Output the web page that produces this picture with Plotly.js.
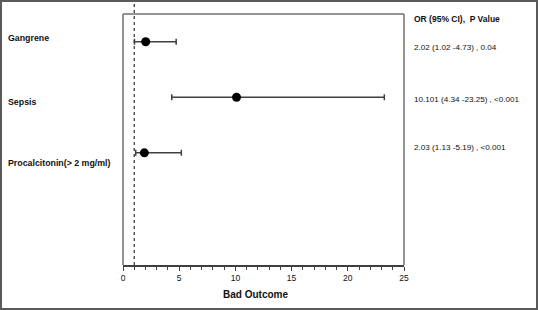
<!DOCTYPE html>
<html><head><meta charset="utf-8">
<script src="https://cdn.plot.ly/plotly-3.0.1.min.js"></script>
<style>
body{margin:0;background:#fff;}
#wrap{position:absolute;left:0;top:0;width:538px;height:310px;border:2px solid #5a5a5a;box-sizing:border-box;}
#chart{width:534px;height:306px;}
</style></head>
<body><div id="wrap"><div id="chart"></div></div>
<script>
const categories = ["Gangrene", "Sepsis", "Procalcitonin(> 2 mg/ml)"];
const orValues = [2.02, 10.1, 1.9];
const ciLow = [1.02, 4.34, 1.13];
const ciHigh = [4.73, 23.25, 5.19];
const resultLabels = ["2.02 (1.02 -4.73) , 0.04", "10.101 (4.34 -23.25) , <0.001", "2.03 (1.13 -5.19) , <0.001"];
const resultHeader = "OR (95% CI),  P Value";
const xTitle = "Bad Outcome";
const refLine = 1;

const FONT = "Liberation Sans, Arial, sans-serif";
const trace = {
  type: "scatter", mode: "markers",
  x: orValues, y: categories,
  marker: {color: "#000", size: 9},
  error_x: {
    type: "data", symmetric: false,
    array: orValues.map((v,i)=>ciHigh[i]-v),
    arrayminus: orValues.map((v,i)=>v-ciLow[i]),
    color: "#404040", thickness: 1.5, width: 3
  },
  hoverinfo: "skip", cliponaxis: false
};
const labelShiftLeft = [4, -5, -10];
const labelShiftRight = [-6, -2, 5];
const annotations = [];
categories.forEach((c,i)=>{
  annotations.push({xref:"paper", yref:"y", x:-0.4165, y:c, xanchor:"left", yanchor:"middle",
    text:"<b>"+c+"</b>", showarrow:false, yshift:labelShiftLeft[i], font:{family:FONT,size:8.8,color:"#111"}});
  annotations.push({xref:"paper", yref:"y", x:1.0285, y:c, xanchor:"left", yanchor:"middle",
    text:resultLabels[i], showarrow:false, yshift:labelShiftRight[i], font:{family:FONT,size:8.1,color:"#111"}});
});
annotations.push({xref:"paper", yref:"paper", x:1.0285, y:(263-17)/251, xanchor:"left", yanchor:"middle",
  text:"<b>"+resultHeader+"</b>", showarrow:false, font:{family:FONT,size:8.5,color:"#111"}});
annotations.push({xref:"paper", yref:"paper", x:0.473, y:-0.1195, xanchor:"center", yanchor:"middle",
  text:"<b>"+xTitle+"</b>", showarrow:false, font:{family:FONT,size:10,color:"#111"}});

const layout = {
  width:534, height:306,
  margin:{l:121, r:132, t:12, b:43},
  paper_bgcolor:"#fff", plot_bgcolor:"#fff",
  showlegend:false,
  xaxis:{range:[0,25], dtick:5, showgrid:false, zeroline:false,
    showline:true, linecolor:"#404040", linewidth:1.5,
    ticks:"outside", ticklen:4, tickcolor:"#404040", tickwidth:1,
    minor:{dtick:1, ticks:"outside", ticklen:3, tickcolor:"#404040"},
    tickfont:{family:FONT,size:8.5,color:"#111"}},
  yaxis:{type:"category", categoryarray:categories, range:[4.02,-0.5],
    showticklabels:false, showgrid:false, zeroline:false, showline:false, ticks:""},
  shapes:[
    {type:"line", xref:"paper", yref:"paper", x0:0, x1:0, y0:0, y1:1, line:{color:"#707070", width:1.5}},
    {type:"line", xref:"paper", yref:"paper", x0:1, x1:1, y0:0, y1:1, line:{color:"#707070", width:1.5}},
    {type:"line", xref:"paper", yref:"paper", x0:0, x1:1, y0:1, y1:1, line:{color:"#707070", width:1.5}},
    {type:"line", xref:"x", yref:"paper", x0:refLine, x1:refLine, y0:0, y1:1.044, line:{color:"#303030", width:1.2, dash:"dot"}}
  ],
  annotations: annotations
};
Plotly.newPlot("chart", [trace], layout, {staticPlot:true, displayModeBar:false});
</script></body></html>
